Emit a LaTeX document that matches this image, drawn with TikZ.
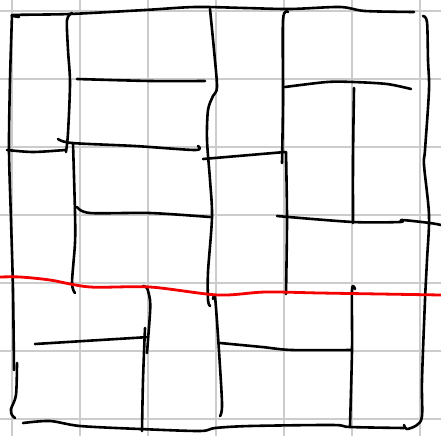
\documentclass[tikz,border=0pt]{standalone}
\usepackage{tikz}
\definecolor{gridgray}{RGB}{204,204,204}
\definecolor{routered}{RGB}{245,0,0}

\begin{document}
\begin{tikzpicture}[x=1pt, y=-1pt,
  gridline/.style={draw=gridgray, line width=2pt},
  wall/.style={draw=black, line width=2.6pt, line cap=round, line join=round},
  route/.style={draw=routered, line width=2.8pt, line cap=round}
]
\useasboundingbox (0,0) rectangle (441,436);
\fill[white] (0,0) rectangle (441,436);

% grid
\foreach \gx in {12,80,148,216,284,352,420}
  \draw[gridline] (\gx,0) -- (\gx,436);
\foreach \gy in {11,79,147,215,283,351,419}
  \draw[gridline] (0,\gy) -- (441,\gy);

% outer walls
\draw[wall] plot[smooth, tension=0.5] coordinates {(19,17) (14,15) (70,14) (145,10) (195,7) (245,8) (290,9) (340,7) (365,11) (414,12)};
\draw[wall] plot[smooth, tension=0.5] coordinates {(12,15) (10,80) (9,150) (11,220) (13,290) (14,370)};
\draw[wall] plot[smooth, tension=0.5] coordinates {(17,363) (16,395) (11,409) (12,415) (15,418)};
\draw[wall] plot[smooth, tension=0.5] coordinates {(23,423) (50,421) (80,426) (140,429) (200,431) (215,428) (250,426) (333,425) (350,427) (404,428)};
\draw[wall] plot[smooth, tension=0.5] coordinates {(423,16) (427,22) (428,60) (429,90) (425,150) (424,165) (429,215) (427,260) (425,300) (422,380) (422,416) (417,425) (407,429) (404,425)};

% inner walls, top part
\draw[wall] plot[smooth, tension=0.5] coordinates {(72,13) (67,20) (68,50) (70,83) (68,133) (66,152)};
\draw[wall] plot[smooth, tension=0.5] coordinates {(7,150) (33,152) (65,150)};
\draw[wall] plot[smooth, tension=0.5] coordinates {(77,79) (150,81) (205,81)};
\draw[wall] plot[smooth, tension=0.5] coordinates {(58,139) (72,143) (135,146) (195,150) (198,146)};
\draw[wall] plot[smooth, tension=0.5] coordinates {(73,143) (75,213) (75,243) (72,283) (75,293)};
\draw[wall] plot[smooth, tension=0.5] coordinates {(77,207) (90,213) (150,213) (210,217)};
\draw[wall] plot[smooth, tension=0.5] coordinates {(210,9) (214,50) (217,87) (213,96) (208,110) (207,140) (210,180) (212,217) (208,272) (208,300) (210,306)};
\draw[wall] plot[smooth, tension=0.5] coordinates {(203,159) (285,152)};
\draw[wall] plot[smooth, tension=0.5] coordinates {(286,152) (287,220) (286,294)};
\draw[wall] plot[smooth, tension=0.5] coordinates {(288,12) (283,20) (283,100) (282,163)};
\draw[wall] plot[smooth, tension=0.5] coordinates {(285,87) (327,82) (353,82) (387,84) (411,89)};
\draw[wall] plot[smooth, tension=0.5] coordinates {(354,88) (353,160) (353,223)};
\draw[wall] plot[smooth, tension=0.5] coordinates {(277,216) (353,222) (400,222) (402,220) (430,223) (441,225)};

% inner walls, bottom part
\draw[wall] plot[smooth, tension=0.5] coordinates {(143,286) (147,288) (150,300) (150,313) (147,353)};
\draw[wall] plot[smooth, tension=0.5] coordinates {(145,328) (143,380) (142,431)};
\draw[wall] plot[smooth, tension=0.5] coordinates {(35,344) (133,338) (148,337)};
\draw[wall] plot[smooth, tension=0.5] coordinates {(213,299) (215,297) (218,336) (222,403) (220,416)};
\draw[wall] plot[smooth, tension=0.5] coordinates {(220,343) (262,347) (292,350) (352,350)};
\draw[wall] plot[smooth, tension=0.5] coordinates {(355,289) (352,290) (352,350) (350,426)};

% red line
\draw[route] plot[smooth, tension=0.5] coordinates {(0,277) (20,277) (50,280) (90,287) (150,287) (218,295) (265,292) (320,293) (380,294) (441,295)};
\end{tikzpicture}
\end{document}
